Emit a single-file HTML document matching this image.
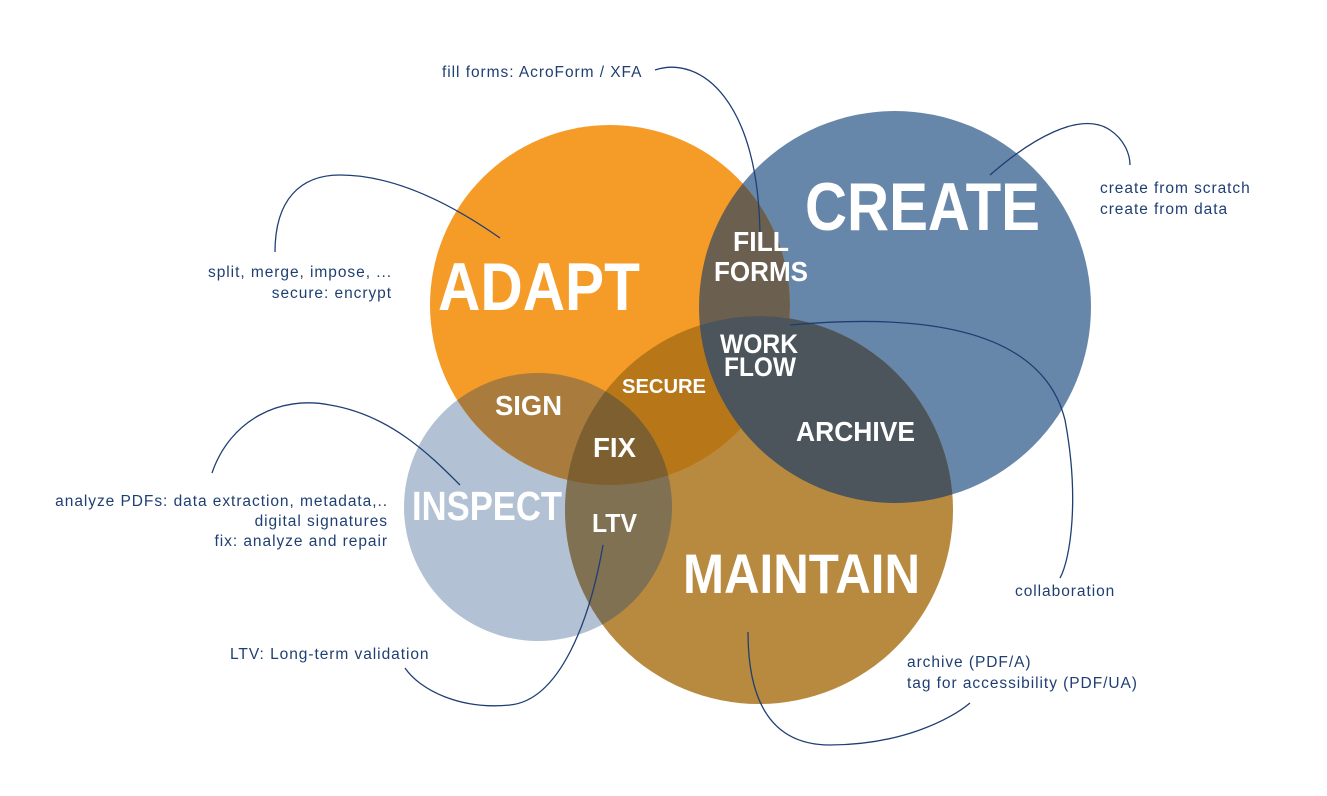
<!DOCTYPE html>
<html><head><meta charset="utf-8"><style>
html,body{margin:0;padding:0;background:#fff;}
svg{display:block;}
.s{font-family:"Liberation Sans",sans-serif;font-size:15.5px;fill:#1F3F73;letter-spacing:0.95px;}
.b{font-family:"Liberation Sans",sans-serif;font-weight:bold;fill:#fff;}
</style></head><body>
<svg width="1327" height="796" viewBox="0 0 1327 796" xmlns="http://www.w3.org/2000/svg">
<defs>
<clipPath id="cA"><circle cx="610" cy="305" r="180"/></clipPath>
<clipPath id="cC"><circle cx="895" cy="307" r="196"/></clipPath>
<clipPath id="cI"><circle cx="538" cy="507" r="134"/></clipPath>
<clipPath id="cM"><circle cx="759" cy="510" r="194"/></clipPath>
</defs>
<circle cx="538" cy="507" r="134" fill="#B2C2D4"/>
<circle cx="895" cy="307" r="196" fill="#6787AA"/>
<circle cx="759" cy="510" r="194" fill="#B78A40"/>
<circle cx="610" cy="305" r="180" fill="#F59B27"/>
<g clip-path="url(#cA)"><circle cx="895" cy="307" r="196" fill="#6B604F"/></g>
<g clip-path="url(#cA)"><circle cx="759" cy="510" r="194" fill="#B77718"/></g>
<g clip-path="url(#cC)"><circle cx="759" cy="510" r="194" fill="#4B555B"/></g>
<g clip-path="url(#cI)"><circle cx="610" cy="305" r="180" fill="#A97C3E"/></g>
<g clip-path="url(#cI)"><circle cx="759" cy="510" r="194" fill="#807153"/></g>
<g clip-path="url(#cI)"><g clip-path="url(#cA)"><circle cx="759" cy="510" r="194" fill="#7E5F2F"/></g></g>

<g fill="none" stroke="#1F3F73" stroke-width="1.3">
<path d="M655,70 C700,55 760,100 760,240"/>
<path d="M990,175 C1030,140 1080,110 1110,130 C1125,140 1130,155 1130,165"/>
<path d="M275,252 C275,200 300,175 340,175 C400,175 460,210 500,238"/>
<path d="M212,473 C230,420 280,395 330,405 C390,415 430,455 460,485"/>
<path d="M790,325 C900,315 1040,320 1065,420 C1080,500 1070,560 1060,578"/>
<path d="M603,545 C590,620 560,700 510,705 C460,710 420,690 405,668"/>
<path d="M748,632 C748,700 770,745 830,745 C900,745 950,720 970,703"/>
</g>

<g class="b">
<text x="805" y="230" font-size="68" textLength="235" lengthAdjust="spacingAndGlyphs">CREATE</text>
<text x="438" y="310" font-size="68" textLength="202" lengthAdjust="spacingAndGlyphs">ADAPT</text>
<text x="412" y="520" font-size="41" textLength="150" lengthAdjust="spacingAndGlyphs">INSPECT</text>
<text x="683" y="593" font-size="56" textLength="237" lengthAdjust="spacingAndGlyphs">MAINTAIN</text>
<text x="733" y="251" font-size="28" textLength="56" lengthAdjust="spacingAndGlyphs">FILL</text>
<text x="714" y="281" font-size="28" textLength="94" lengthAdjust="spacingAndGlyphs">FORMS</text>
<text x="720" y="353" font-size="27" textLength="78" lengthAdjust="spacingAndGlyphs">WORK</text>
<text x="724" y="376" font-size="27" textLength="72" lengthAdjust="spacingAndGlyphs">FLOW</text>
<text x="622" y="393" font-size="20" textLength="84" lengthAdjust="spacingAndGlyphs">SECURE</text>
<text x="495" y="415" font-size="28" textLength="67" lengthAdjust="spacingAndGlyphs">SIGN</text>
<text x="593" y="457" font-size="28" textLength="43" lengthAdjust="spacingAndGlyphs">FIX</text>
<text x="592" y="532" font-size="26" textLength="45" lengthAdjust="spacingAndGlyphs">LTV</text>
<text x="796" y="441" font-size="28" textLength="119" lengthAdjust="spacingAndGlyphs">ARCHIVE</text>
</g>

<g class="s">
<text x="442" y="77">fill forms: AcroForm / XFA</text>
<text x="1100" y="193">create from scratch</text>
<text x="1100" y="214">create from data</text>
<text x="392" y="277" text-anchor="end">split, merge, impose, ...</text>
<text x="392" y="298" text-anchor="end">secure: encrypt</text>
<text x="388" y="506" text-anchor="end">analyze PDFs: data extraction, metadata,..</text>
<text x="388" y="526" text-anchor="end">digital signatures</text>
<text x="388" y="546" text-anchor="end">fix: analyze and repair</text>
<text x="1015" y="596">collaboration</text>
<text x="230" y="659">LTV: Long-term validation</text>
<text x="907" y="667">archive (PDF/A)</text>
<text x="907" y="688">tag for accessibility (PDF/UA)</text>
</g>
</svg>
</body></html>
